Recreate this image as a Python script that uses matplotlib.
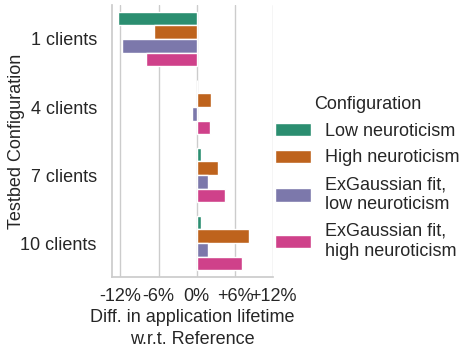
import matplotlib
matplotlib.use("Agg")
import matplotlib.pyplot as plt
import seaborn as sns
import pandas as pd

# data (percent diff w.r.t. reference)
testbeds = ["1 clients", "4 clients", "7 clients", "10 clients"]
configs = ["Low neuroticism", "High neuroticism",
           "ExGaussian fit,\nlow neuroticism", "ExGaussian fit,\nhigh neuroticism"]
low_neuro = [-12.4, 0.1, 0.7, 0.7]
high_neuro = [-6.7, 2.2, 3.3, 8.2]
exg_low = [-11.8, -0.7, 1.7, 1.7]
exg_high = [-8.0, 2.0, 4.5, 7.1]
xticks = [-12, -6, 0, 6, 12]
xticklabels = ["-12%", "-6%", "0%", "+6%", "+12%"]

rows = []
for vals, cfg in zip([low_neuro, high_neuro, exg_low, exg_high], configs):
    for tb, v in zip(testbeds, vals):
        rows.append({"Testbed Configuration": tb, "Configuration": cfg, "diff": v})
df = pd.DataFrame(rows)

sns.set_theme(style="whitegrid")
plt.rcParams["font.family"] = ["Liberation Sans", "DejaVu Sans"]
fs = 13

fig = plt.figure(figsize=(4.71, 3.53), dpi=100)
ax = fig.add_axes([0.238, 0.215, 0.342, 0.771])
sns.barplot(data=df, y="Testbed Configuration", x="diff", hue="Configuration",
            order=testbeds, hue_order=configs, palette="Dark2", orient="h",
            ax=ax, errorbar=None)
ax.set_xlim(-13.3, 12)
ax.set_xticks(xticks)
ax.set_xticklabels(xticklabels)
ax.tick_params(axis="x", labelsize=fs, pad=2)
ax.tick_params(axis="y", labelsize=fs, pad=5)
ax.set_xlabel("Diff. in application lifetime\nw.r.t. Reference", fontsize=fs,
              labelpad=3, linespacing=1.35)
ax.set_ylabel("Testbed Configuration", fontsize=fs)
ax.yaxis.set_label_coords(-0.54, 0.5)
ax.grid(axis="y", visible=False)
sns.despine(ax=ax)

handles, labels = ax.get_legend_handles_labels()
ax.legend_.remove()
fig.legend(handles, labels, title="Configuration", loc="center left",
           bbox_to_anchor=(0.55, 0.497), frameon=False, fontsize=fs,
           title_fontsize=fs, handlelength=1.95, handleheight=0.75,
           handletextpad=0.8, labelspacing=0.55)

fig.savefig("out.png", dpi=100)
